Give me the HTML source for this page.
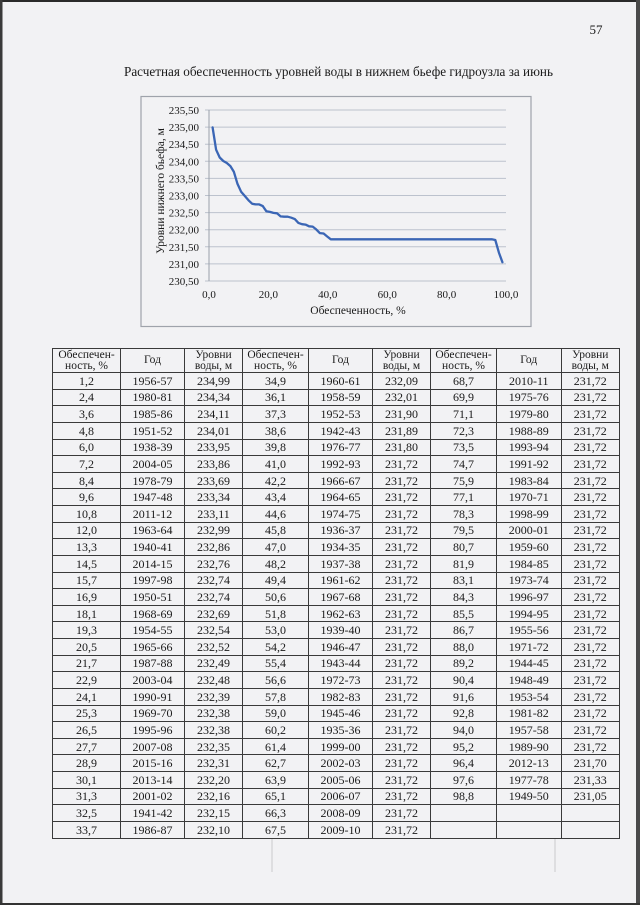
<!DOCTYPE html>
<html>
<head>
<meta charset="utf-8">
<style>
  html,body{margin:0;padding:0;}
  body{width:640px;height:905px;position:relative;overflow:hidden;background:#f2f2f4;
       font-family:"Liberation Serif","Noto Serif CJK SC",serif;color:#1a1a1a;}
  svg.page{position:absolute;left:0;top:0;}
  table.t{position:absolute;left:52px;top:348px;width:567px;border-collapse:collapse;table-layout:fixed;
          font-family:"Liberation Serif",serif;font-size:12px;color:#1a1a1a;}
  table.t td{border:1px solid #3a3a3a;padding:0;text-align:center;vertical-align:middle;height:15.64px;line-height:12px;white-space:nowrap;overflow:hidden;}
  table.t tr.h td{height:23px;font-size:11.5px;line-height:10.5px;}
</style>
</head>
<body>
<svg class="page" width="640" height="905" viewBox="0 0 640 905" xmlns="http://www.w3.org/2000/svg">
  <!-- scan edges -->
  <rect x="0" y="0" width="640" height="2" fill="#2a2a2a"/>
  <rect x="636" y="0" width="4" height="905" fill="#4a4a4a"/>
  <rect x="0" y="0" width="2.5" height="905" fill="#3a3a3a"/>
  <rect x="0" y="903" width="640" height="2" fill="#333"/>
  <!-- faint scan marks -->
  <line x1="272" y1="838" x2="272" y2="872" stroke="#c9c9cc" stroke-width="1"/>
  <line x1="555" y1="838" x2="555" y2="872" stroke="#c9c9cc" stroke-width="1"/>

  <!-- page number -->
  <text x="596" y="34" font-family="Liberation Serif, serif" font-size="13" text-anchor="middle" fill="#1a1a1a">57</text>
  <!-- title -->
  <text x="124" y="76" font-family="Liberation Serif, serif" font-size="14" fill="#1a1a1a" textLength="429" lengthAdjust="spacingAndGlyphs">Расчетная обеспеченность уровней воды в нижнем бьефе гидроузла за июнь</text>

  <!-- chart border -->
  <rect x="141" y="96.5" width="390" height="230" fill="none" stroke="#9fa3ab" stroke-width="1.2"/>

  <!-- gridlines -->
  <g stroke="#bcc2cd" stroke-width="1">
    <line x1="205" y1="110" x2="506" y2="110"/>
    <line x1="205" y1="127.1" x2="506" y2="127.1"/>
    <line x1="205" y1="144.2" x2="506" y2="144.2"/>
    <line x1="205" y1="161.3" x2="506" y2="161.3"/>
    <line x1="205" y1="178.4" x2="506" y2="178.4"/>
    <line x1="205" y1="195.5" x2="506" y2="195.5"/>
    <line x1="205" y1="212.6" x2="506" y2="212.6"/>
    <line x1="205" y1="229.7" x2="506" y2="229.7"/>
    <line x1="205" y1="246.8" x2="506" y2="246.8"/>
    <line x1="205" y1="263.9" x2="506" y2="263.9"/>
    <line x1="205" y1="281" x2="506" y2="281"/>
  </g>
  <line x1="209" y1="110" x2="209" y2="281" stroke="#9aa0aa" stroke-width="1"/>

  <!-- y labels -->
  <g font-family="Liberation Serif, serif" font-size="11" text-anchor="end" fill="#1a1a1a">
    <text x="199" y="114">235,50</text>
    <text x="199" y="131.1">235,00</text>
    <text x="199" y="148.2">234,50</text>
    <text x="199" y="165.3">234,00</text>
    <text x="199" y="182.4">233,50</text>
    <text x="199" y="199.5">233,00</text>
    <text x="199" y="216.6">232,50</text>
    <text x="199" y="233.7">232,00</text>
    <text x="199" y="250.8">231,50</text>
    <text x="199" y="267.9">231,00</text>
    <text x="199" y="285">230,50</text>
  </g>
  <!-- x labels -->
  <g font-family="Liberation Serif, serif" font-size="11" text-anchor="middle" fill="#1a1a1a">
    <text x="209" y="298">0,0</text>
    <text x="268.4" y="298">20,0</text>
    <text x="327.8" y="298">40,0</text>
    <text x="387.2" y="298">60,0</text>
    <text x="446.6" y="298">80,0</text>
    <text x="506" y="298">100,0</text>
  </g>
  <text x="358" y="314" font-family="Liberation Serif, serif" font-size="11.5" text-anchor="middle" fill="#1a1a1a">Обеспеченность, %</text>
  <text transform="translate(164,191) rotate(-90)" x="0" y="0" font-family="Liberation Serif, serif" font-size="11.5" text-anchor="middle" fill="#1a1a1a">Уровни нижнего бьефа, м</text>

  <!-- series -->
  <polyline fill="none" stroke="#3b66b5" stroke-width="2.3" stroke-linejoin="round" stroke-linecap="round"
    points="212.6,127.4 216.1,149.7 219.7,157.5 223.3,161.0 226.8,163.0 230.4,166.1 233.9,171.9 237.5,183.9 241.1,191.7 244.6,195.8 248.5,200.3 252.1,203.7 255.6,204.4 259.2,204.4 262.8,206.1 266.3,211.2 269.9,211.9 273.4,212.9 277.0,213.3 280.6,216.4 284.1,216.7 287.7,216.7 291.3,217.7 294.8,219.1 298.4,222.9 302.0,224.2 305.5,224.6 309.1,226.3 312.7,226.6 316.2,229.4 319.8,233.1 323.6,233.5 327.2,236.5 330.8,239.3 491.7,239.3 495.3,240.0 498.9,252.6 502.4,262.2"/>
</svg>

<table class="t">
  <colgroup>
    <col style="width:68px"><col style="width:64px"><col style="width:58px">
    <col style="width:66px"><col style="width:64px"><col style="width:58px">
    <col style="width:66px"><col style="width:64.5px"><col style="width:58.5px">
  </colgroup>
  <tr class="h">
    <td>Обеспечен-<br>ность, %</td><td>Год</td><td>Уровни<br>воды, м</td>
    <td>Обеспечен-<br>ность, %</td><td>Год</td><td>Уровни<br>воды, м</td>
    <td>Обеспечен-<br>ность, %</td><td>Год</td><td>Уровни<br>воды, м</td>
  </tr>
  <tr><td>1,2</td><td>1956-57</td><td>234,99</td><td>34,9</td><td>1960-61</td><td>232,09</td><td>68,7</td><td>2010-11</td><td>231,72</td></tr>
  <tr><td>2,4</td><td>1980-81</td><td>234,34</td><td>36,1</td><td>1958-59</td><td>232,01</td><td>69,9</td><td>1975-76</td><td>231,72</td></tr>
  <tr><td>3,6</td><td>1985-86</td><td>234,11</td><td>37,3</td><td>1952-53</td><td>231,90</td><td>71,1</td><td>1979-80</td><td>231,72</td></tr>
  <tr><td>4,8</td><td>1951-52</td><td>234,01</td><td>38,6</td><td>1942-43</td><td>231,89</td><td>72,3</td><td>1988-89</td><td>231,72</td></tr>
  <tr><td>6,0</td><td>1938-39</td><td>233,95</td><td>39,8</td><td>1976-77</td><td>231,80</td><td>73,5</td><td>1993-94</td><td>231,72</td></tr>
  <tr><td>7,2</td><td>2004-05</td><td>233,86</td><td>41,0</td><td>1992-93</td><td>231,72</td><td>74,7</td><td>1991-92</td><td>231,72</td></tr>
  <tr><td>8,4</td><td>1978-79</td><td>233,69</td><td>42,2</td><td>1966-67</td><td>231,72</td><td>75,9</td><td>1983-84</td><td>231,72</td></tr>
  <tr><td>9,6</td><td>1947-48</td><td>233,34</td><td>43,4</td><td>1964-65</td><td>231,72</td><td>77,1</td><td>1970-71</td><td>231,72</td></tr>
  <tr><td>10,8</td><td>2011-12</td><td>233,11</td><td>44,6</td><td>1974-75</td><td>231,72</td><td>78,3</td><td>1998-99</td><td>231,72</td></tr>
  <tr><td>12,0</td><td>1963-64</td><td>232,99</td><td>45,8</td><td>1936-37</td><td>231,72</td><td>79,5</td><td>2000-01</td><td>231,72</td></tr>
  <tr><td>13,3</td><td>1940-41</td><td>232,86</td><td>47,0</td><td>1934-35</td><td>231,72</td><td>80,7</td><td>1959-60</td><td>231,72</td></tr>
  <tr><td>14,5</td><td>2014-15</td><td>232,76</td><td>48,2</td><td>1937-38</td><td>231,72</td><td>81,9</td><td>1984-85</td><td>231,72</td></tr>
  <tr><td>15,7</td><td>1997-98</td><td>232,74</td><td>49,4</td><td>1961-62</td><td>231,72</td><td>83,1</td><td>1973-74</td><td>231,72</td></tr>
  <tr><td>16,9</td><td>1950-51</td><td>232,74</td><td>50,6</td><td>1967-68</td><td>231,72</td><td>84,3</td><td>1996-97</td><td>231,72</td></tr>
  <tr><td>18,1</td><td>1968-69</td><td>232,69</td><td>51,8</td><td>1962-63</td><td>231,72</td><td>85,5</td><td>1994-95</td><td>231,72</td></tr>
  <tr><td>19,3</td><td>1954-55</td><td>232,54</td><td>53,0</td><td>1939-40</td><td>231,72</td><td>86,7</td><td>1955-56</td><td>231,72</td></tr>
  <tr><td>20,5</td><td>1965-66</td><td>232,52</td><td>54,2</td><td>1946-47</td><td>231,72</td><td>88,0</td><td>1971-72</td><td>231,72</td></tr>
  <tr><td>21,7</td><td>1987-88</td><td>232,49</td><td>55,4</td><td>1943-44</td><td>231,72</td><td>89,2</td><td>1944-45</td><td>231,72</td></tr>
  <tr><td>22,9</td><td>2003-04</td><td>232,48</td><td>56,6</td><td>1972-73</td><td>231,72</td><td>90,4</td><td>1948-49</td><td>231,72</td></tr>
  <tr><td>24,1</td><td>1990-91</td><td>232,39</td><td>57,8</td><td>1982-83</td><td>231,72</td><td>91,6</td><td>1953-54</td><td>231,72</td></tr>
  <tr><td>25,3</td><td>1969-70</td><td>232,38</td><td>59,0</td><td>1945-46</td><td>231,72</td><td>92,8</td><td>1981-82</td><td>231,72</td></tr>
  <tr><td>26,5</td><td>1995-96</td><td>232,38</td><td>60,2</td><td>1935-36</td><td>231,72</td><td>94,0</td><td>1957-58</td><td>231,72</td></tr>
  <tr><td>27,7</td><td>2007-08</td><td>232,35</td><td>61,4</td><td>1999-00</td><td>231,72</td><td>95,2</td><td>1989-90</td><td>231,72</td></tr>
  <tr><td>28,9</td><td>2015-16</td><td>232,31</td><td>62,7</td><td>2002-03</td><td>231,72</td><td>96,4</td><td>2012-13</td><td>231,70</td></tr>
  <tr><td>30,1</td><td>2013-14</td><td>232,20</td><td>63,9</td><td>2005-06</td><td>231,72</td><td>97,6</td><td>1977-78</td><td>231,33</td></tr>
  <tr><td>31,3</td><td>2001-02</td><td>232,16</td><td>65,1</td><td>2006-07</td><td>231,72</td><td>98,8</td><td>1949-50</td><td>231,05</td></tr>
  <tr><td>32,5</td><td>1941-42</td><td>232,15</td><td>66,3</td><td>2008-09</td><td>231,72</td><td></td><td></td><td></td></tr>
  <tr><td>33,7</td><td>1986-87</td><td>232,10</td><td>67,5</td><td>2009-10</td><td>231,72</td><td></td><td></td><td></td></tr>
</table>
</body>
</html>
